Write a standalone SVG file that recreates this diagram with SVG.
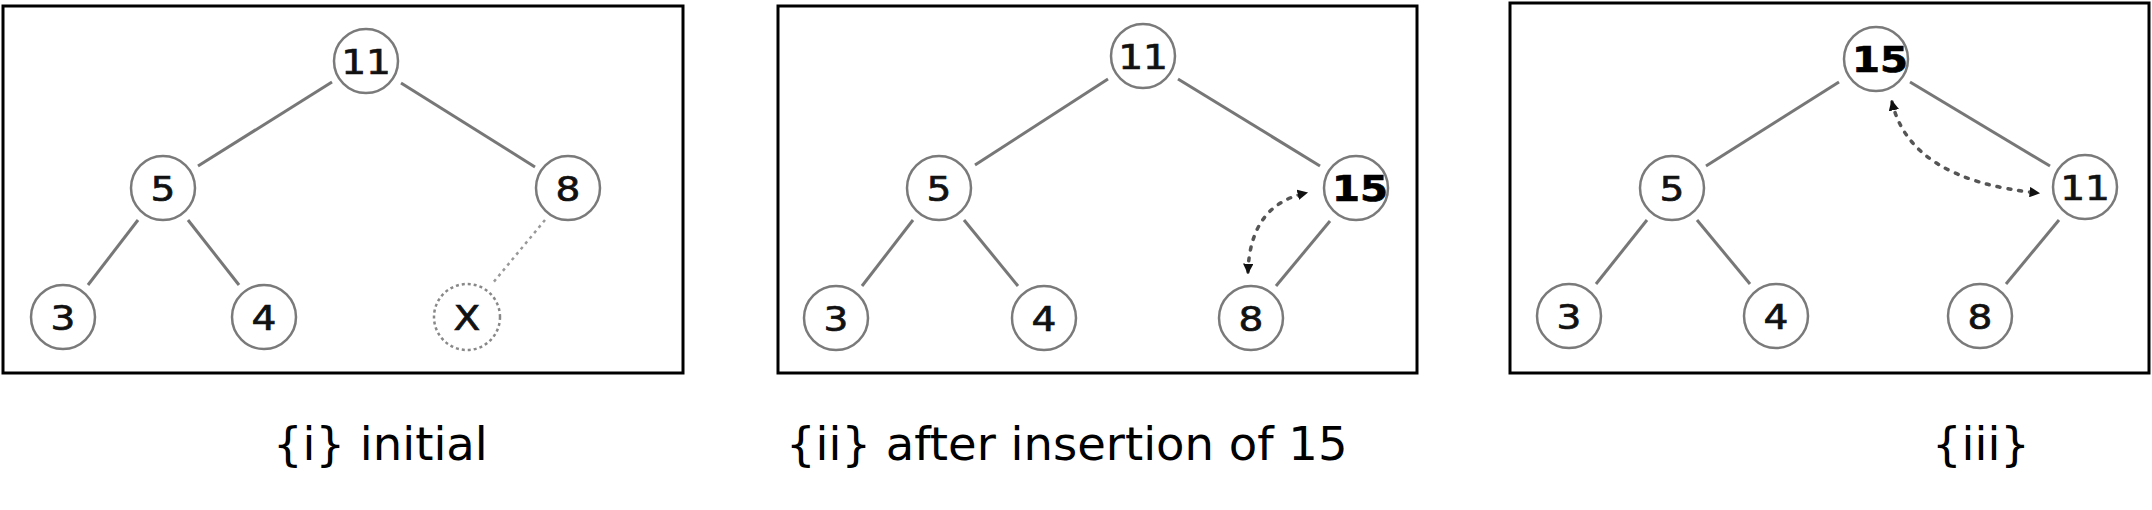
<svg xmlns="http://www.w3.org/2000/svg" width="2152" height="510" viewBox="0 0 2152 510">
<style>
.panel{fill:#fff;stroke:#000;stroke-width:3}
.node circle{fill:#fff;stroke:#7a7a7a;stroke-width:2.5}
.node text{font-family:"DejaVu Sans",Verdana,sans-serif;font-size:34px;fill:#111;stroke:#111;stroke-width:0.7;text-anchor:middle}
.node.bold text{font-weight:bold;font-size:35px;fill:#000;stroke:#000}
.node.ghost circle{stroke:#888;stroke-dasharray:3 3}
.edge{stroke:#777;stroke-width:3;fill:none}
.edge.dash{stroke:#999;stroke-width:2.5;stroke-dasharray:3 4}
.swap{stroke:#555;stroke-width:3.5;fill:none;stroke-dasharray:3 8;stroke-linecap:round}
.cap{font-family:"DejaVu Sans",Verdana,sans-serif;font-size:46.5px;fill:#000}
</style>
<defs>
<marker id="ah" viewBox="0 0 10 10" refX="8" refY="5" markerWidth="3" markerHeight="3" orient="auto-start-reverse" markerUnits="strokeWidth">
<path d="M0,0 L10,5 L0,10 z" fill="#111"/>
</marker>
</defs>
<rect width="2152" height="510" fill="#fff"/>
<g id="panels">
<rect class="panel" x="3" y="6" width="680" height="367"/>
<rect class="panel" x="778" y="6" width="639" height="367"/>
<rect class="panel" x="1510" y="3" width="639" height="370"/>
</g>
<g id="connectors">
<line class="edge" x1="332" y1="82" x2="198" y2="166"/>
<line class="edge" x1="401" y1="83" x2="535" y2="167"/>
<line class="edge" x1="138" y1="220" x2="88" y2="285"/>
<line class="edge" x1="188" y1="220" x2="239" y2="285"/>
<line class="edge dash" x1="545" y1="220" x2="492" y2="284"/>
<line class="edge" x1="1108" y1="79" x2="975" y2="165"/>
<line class="edge" x1="1178" y1="79" x2="1320" y2="166"/>
<line class="edge" x1="913" y1="220" x2="862" y2="286"/>
<line class="edge" x1="964" y1="220" x2="1018" y2="286"/>
<line class="edge" x1="1330" y1="221" x2="1276" y2="286"/>
<line class="edge" x1="1839" y1="82" x2="1706" y2="166"/>
<line class="edge" x1="1910" y1="82" x2="2050" y2="166"/>
<line class="edge" x1="1647" y1="220" x2="1596" y2="284"/>
<line class="edge" x1="1697" y1="220" x2="1750" y2="284"/>
<line class="edge" x1="2059" y1="220" x2="2006" y2="284"/>
<path class="swap" d="M1248,272 Q1250,205 1306,193" marker-start="url(#ah)" marker-end="url(#ah)"/>
<path class="swap" d="M1892,102 Q1910,180 2038,193" marker-start="url(#ah)" marker-end="url(#ah)"/>
</g>
<g id="p1-n11" class="node"><circle cx="366" cy="61" r="32"/><text transform="translate(366,74) scale(1.15,1)">11</text></g>
<g id="p1-n5" class="node"><circle cx="163" cy="188" r="32"/><text transform="translate(163,201) scale(1.15,1)">5</text></g>
<g id="p1-n8" class="node"><circle cx="568" cy="188" r="32"/><text transform="translate(568,201) scale(1.15,1)">8</text></g>
<g id="p1-n3" class="node"><circle cx="63" cy="317" r="32"/><text transform="translate(63,330) scale(1.15,1)">3</text></g>
<g id="p1-n4" class="node"><circle cx="264" cy="317" r="32"/><text transform="translate(264,330) scale(1.15,1)">4</text></g>
<g id="p1-nX" class="node ghost"><circle cx="467" cy="317" r="33"/><text transform="translate(467,330) scale(1.15,1)">X</text></g>
<g id="p2-n11" class="node"><circle cx="1143" cy="56" r="32"/><text transform="translate(1143,69) scale(1.15,1)">11</text></g>
<g id="p2-n5" class="node"><circle cx="939" cy="188" r="32"/><text transform="translate(939,201) scale(1.15,1)">5</text></g>
<g id="p2-n15" class="node bold"><circle cx="1356" cy="188" r="32"/><text transform="translate(1360,201) scale(1.15,1)">15</text></g>
<g id="p2-n3" class="node"><circle cx="836" cy="318" r="32"/><text transform="translate(836,331) scale(1.15,1)">3</text></g>
<g id="p2-n4" class="node"><circle cx="1044" cy="318" r="32"/><text transform="translate(1044,331) scale(1.15,1)">4</text></g>
<g id="p2-n8" class="node"><circle cx="1251" cy="318" r="32"/><text transform="translate(1251,331) scale(1.15,1)">8</text></g>
<g id="p3-n15" class="node bold"><circle cx="1876" cy="59" r="32"/><text transform="translate(1880,72) scale(1.15,1)">15</text></g>
<g id="p3-n5" class="node"><circle cx="1672" cy="188" r="32"/><text transform="translate(1672,201) scale(1.15,1)">5</text></g>
<g id="p3-n11" class="node"><circle cx="2085" cy="187" r="32"/><text transform="translate(2085,200) scale(1.15,1)">11</text></g>
<g id="p3-n3" class="node"><circle cx="1569" cy="316" r="32"/><text transform="translate(1569,329) scale(1.15,1)">3</text></g>
<g id="p3-n4" class="node"><circle cx="1776" cy="316" r="32"/><text transform="translate(1776,329) scale(1.15,1)">4</text></g>
<g id="p3-n8" class="node"><circle cx="1980" cy="316" r="32"/><text transform="translate(1980,329) scale(1.15,1)">8</text></g>
<g id="captions">
<text class="cap" x="273" y="460">{i} initial</text>
<text class="cap" x="786" y="460">{ii} after insertion of 15</text>
<text class="cap" x="1932" y="460">{iii}</text>
</g>
</svg>
